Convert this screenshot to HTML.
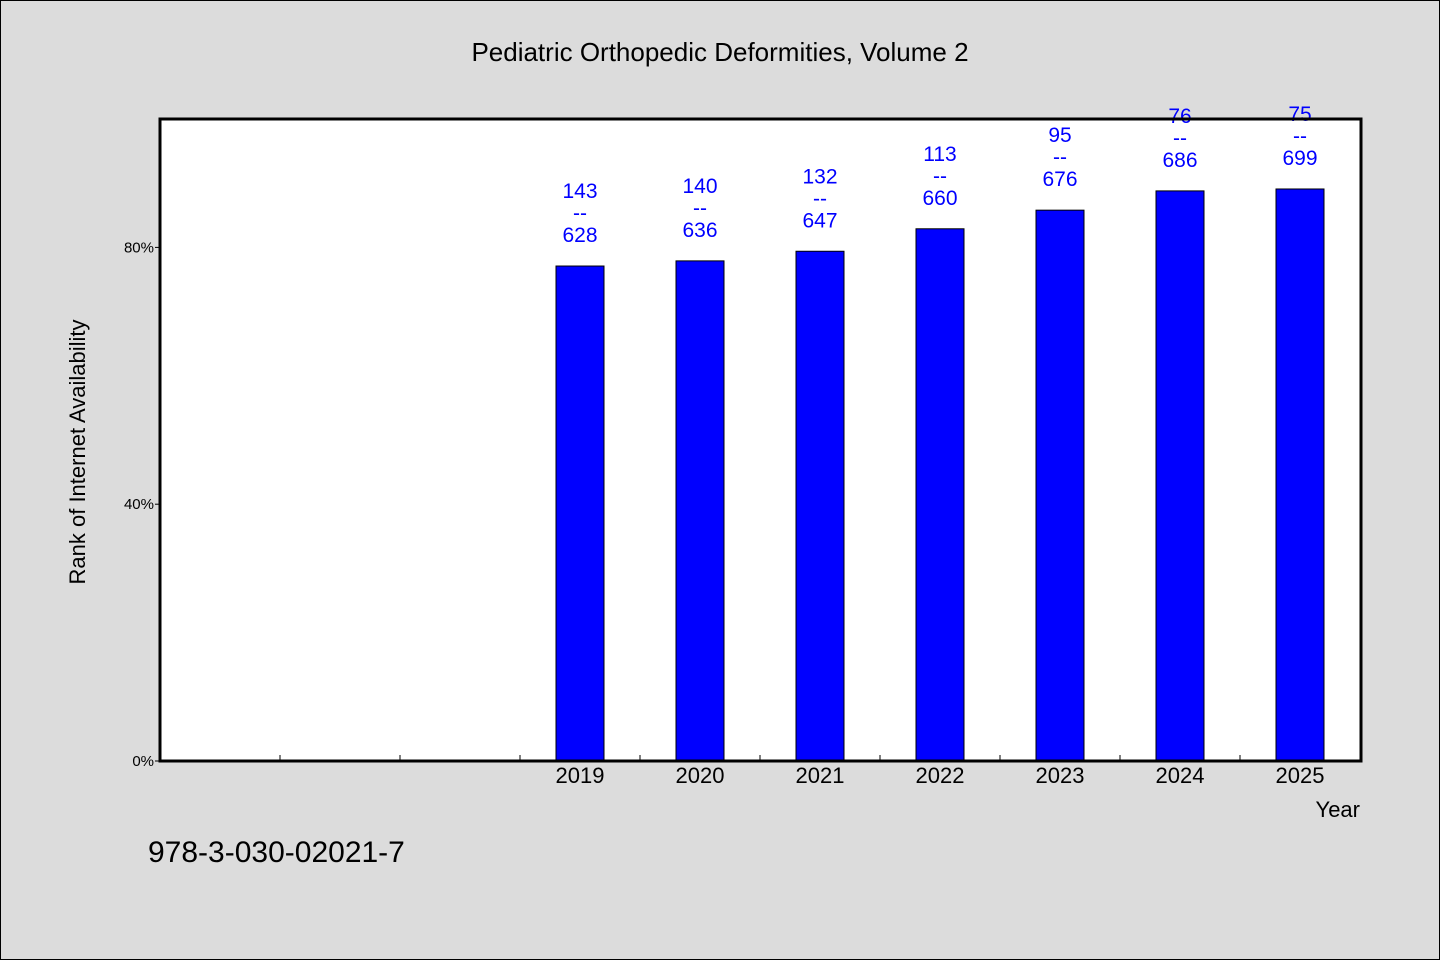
<!DOCTYPE html>
<html><head><meta charset="utf-8"><style>
html,body{margin:0;padding:0;background:#dcdcdc;}
svg{display:block;font-family:"WenQuanYi Zen Hei","Liberation Sans",sans-serif;}
</style></head><body>
<svg id="chart" width="1440" height="960" xmlns="http://www.w3.org/2000/svg">
<rect x="0.5" y="0.5" width="1439" height="959" fill="#dcdcdc" stroke="#000"/>
<text x="720" y="61" text-anchor="middle" font-size="26">Pediatric Orthopedic Deformities, Volume 2</text>
<rect x="160" y="119" width="1201" height="642" fill="#fff"/>
<g id="marks"></g>
<rect x="160" y="119" width="1201" height="642" fill="none" stroke="#000" stroke-width="3"/>
<text x="0" y="0" transform="translate(85,452) rotate(-90)" text-anchor="middle" font-size="22">Rank of Internet Availability</text>
<text x="1360" y="817" text-anchor="end" font-size="22">Year</text>
<text x="148" y="862" font-size="30">978-3-030-02021-7</text>
</svg>
<script>
const categories=["","","","2019","2020","2021","2022","2023","2024","2025"];
const values=[null,null,null,77.1,77.9,79.4,82.9,85.8,88.8,89.1];
const labelTop=["","","","143","140","132","113","95","76","75"];
const labelBottom=["","","","628","636","647","660","676","686","699"];
const yTicks=[0,40,80];
const yTickLabels=["0%","40%","80%"];
const X0=160,W=1200,Y0=761,H=642,YMAX=100;
const slot=W/categories.length;
const x=i=>X0+slot*(i+0.5);
const y=v=>Y0-v/YMAX*H;
const g=document.getElementById('marks');
const NS="http://www.w3.org/2000/svg";
function mk(t,a){const e=document.createElementNS(NS,t);for(const k in a)e.setAttribute(k,a[k]);g.appendChild(e);return e;}
for(let i=1;i<categories.length;i++){
 const t=mk('line',{x1:X0+slot*i,x2:X0+slot*i,y1:Y0,y2:Y0-6,stroke:'#000'});
 
 
}
yTicks.forEach((v,i)=>{
 const t=mk('line',{x1:X0-5,x2:X0,y1:y(v),y2:y(v),stroke:'#000'});
 
 
 const l=mk('text',{x:X0-6,y:y(v)+5,'text-anchor':'end','font-size':15});
 l.textContent=yTickLabels[i];
 
 
});
categories.forEach((c,i)=>{
 if(values[i]==null)return;
 const cx=x(i),top=y(values[i]);
 const b=mk('rect',{x:cx-24,y:top,width:48,height:Y0-top,fill:'#0000ff',stroke:'#000','stroke-width':1});
 
 
 const xl=mk('text',{x:cx,y:Y0+22,'text-anchor':'middle','font-size':22});
 xl.textContent=c;
 
 
 [[labelTop[i],-68],["--",-46],[labelBottom[i],-24]].forEach(([s,dy])=>{
  const t=mk('text',{x:cx,y:top+dy,'text-anchor':'middle','font-size':21,fill:'#0000ff'});
  t.textContent=s;
  
  
 });
});
</script>
</body></html>
